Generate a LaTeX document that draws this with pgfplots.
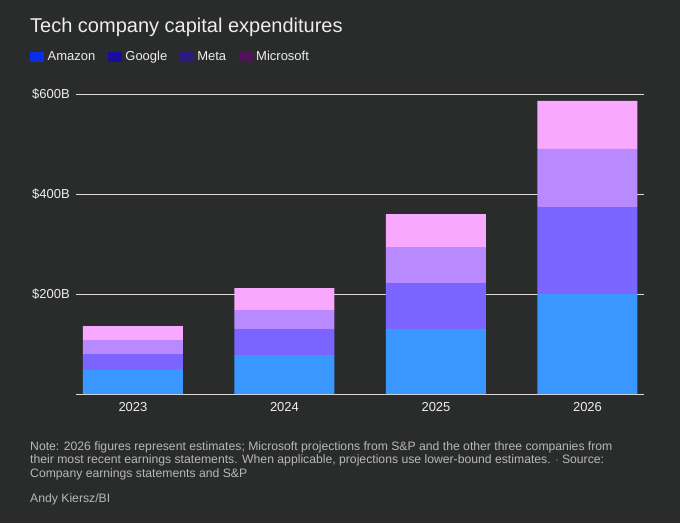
\documentclass[border=0pt]{standalone}
\usepackage{fontspec}
\setmainfont{Liberation Sans}
\usepackage{pgfplots}
\pgfplotsset{compat=1.18}

\definecolor{bg}{HTML}{2A2B2B}
\definecolor{txt}{HTML}{EDEDED}
\definecolor{note}{HTML}{B8B8B8}
\definecolor{gridc}{HTML}{DCDCD4}
% bar fills
\definecolor{amazon}{HTML}{3A97FF}
\definecolor{google}{HTML}{7B64FF}
\definecolor{meta}{HTML}{B98AFF}
\definecolor{msft}{HTML}{F8A8FF}
% legend swatches (they differ from the bars in the original)
\definecolor{amazonL}{HTML}{0A2EE8}
\definecolor{googleL}{HTML}{1A0D9E}
\definecolor{metaL}{HTML}{2D1A80}
\definecolor{msftL}{HTML}{4F135A}

\begin{document}
\begin{tikzpicture}
  \fill[bg] (0,0) rectangle (680pt,523pt);
  \useasboundingbox (0,0) rectangle (680pt,523pt);

  \node[anchor=base west, text=txt, font=\fontsize{20}{22}\selectfont, inner sep=0pt]
    at (30pt,490pt) {Tech company capital expenditures};

  \begin{axis}[
      at={(76pt,129pt)}, anchor=south west,
      scale only axis,
      width=568pt, height=300pt,
      ybar stacked,
      bar width=0.66,
      xmin=-0.376, xmax=3.373,
      ymin=0, ymax=600,
      clip=false,
      axis x line=bottom,
      axis y line=left,
      axis line style={-, draw=gridc, line width=1pt},
      y axis line style={draw=none},
      major tick length=0pt,
      xtick={0,1,2,3},
      xticklabels={2023,2024,2025,2026},
      ytick={200,400,600},
      yticklabels={\$200B,\$400B,\$600B},
      ymajorgrids,
      major grid style={draw=gridc, line width=0.9pt},
      tick label style={text=txt, font=\fontsize{13}{15}\selectfont},
      /pgf/number format/assume math mode=true,
      xticklabel style={inner sep=0pt, yshift=-8pt},
      yticklabel style={inner sep=0pt, xshift=-6pt},
      legend columns=4,
      legend style={at={(0,1)}, anchor=west, xshift=-46pt, yshift=37pt,
        draw=none, fill=none, inner sep=0pt,
        font=\fontsize{13}{15}\selectfont, text=txt,
        nodes={inner sep=1.5pt},
        /tikz/every odd column/.append style={column sep=2pt},
        /tikz/every even column/.append style={column sep=11pt}},
    ]
    \addplot[fill=amazon, draw=none,
      legend image code/.code={\fill[amazonL] (0pt,-5pt) rectangle (14pt,5pt);}]
      coordinates {(0,48) (1,78) (2,130) (3,200)};
    \addlegendentry{Amazon}
    \addplot[fill=google, draw=none,
      legend image code/.code={\fill[googleL] (0pt,-5pt) rectangle (14pt,5pt);}]
      coordinates {(0,32) (1,52) (2,92) (3,174)};
    \addlegendentry{Google}
    \addplot[fill=meta, draw=none,
      legend image code/.code={\fill[metaL] (0pt,-5pt) rectangle (14pt,5pt);}]
      coordinates {(0,28) (1,38) (2,72) (3,116)};
    \addlegendentry{Meta}
    \addplot[fill=msft, draw=none,
      legend image code/.code={\fill[msftL] (0pt,-5pt) rectangle (14pt,5pt);}]
      coordinates {(0,28) (1,44) (2,66) (3,96)};
    \addlegendentry{Microsoft}
  \end{axis}

  \node[anchor=base west, align=left, text=note, inner sep=0pt,
        font=\fontsize{12.2}{13.5}\selectfont]
    at (30pt,46pt)
    {Note: 2026 figures represent estimates; Microsoft projections from S\&P and the other three companies from\\
     their most recent earnings statements. When applicable, projections use lower-bound estimates. $\cdot$ Source:\\
     Company earnings statements and S\&P};
  \node[anchor=base west, text=note, inner sep=0pt, font=\fontsize{12.2}{15}\selectfont]
    at (30pt,21pt) {Andy Kiersz/BI};
\end{tikzpicture}
\end{document}
